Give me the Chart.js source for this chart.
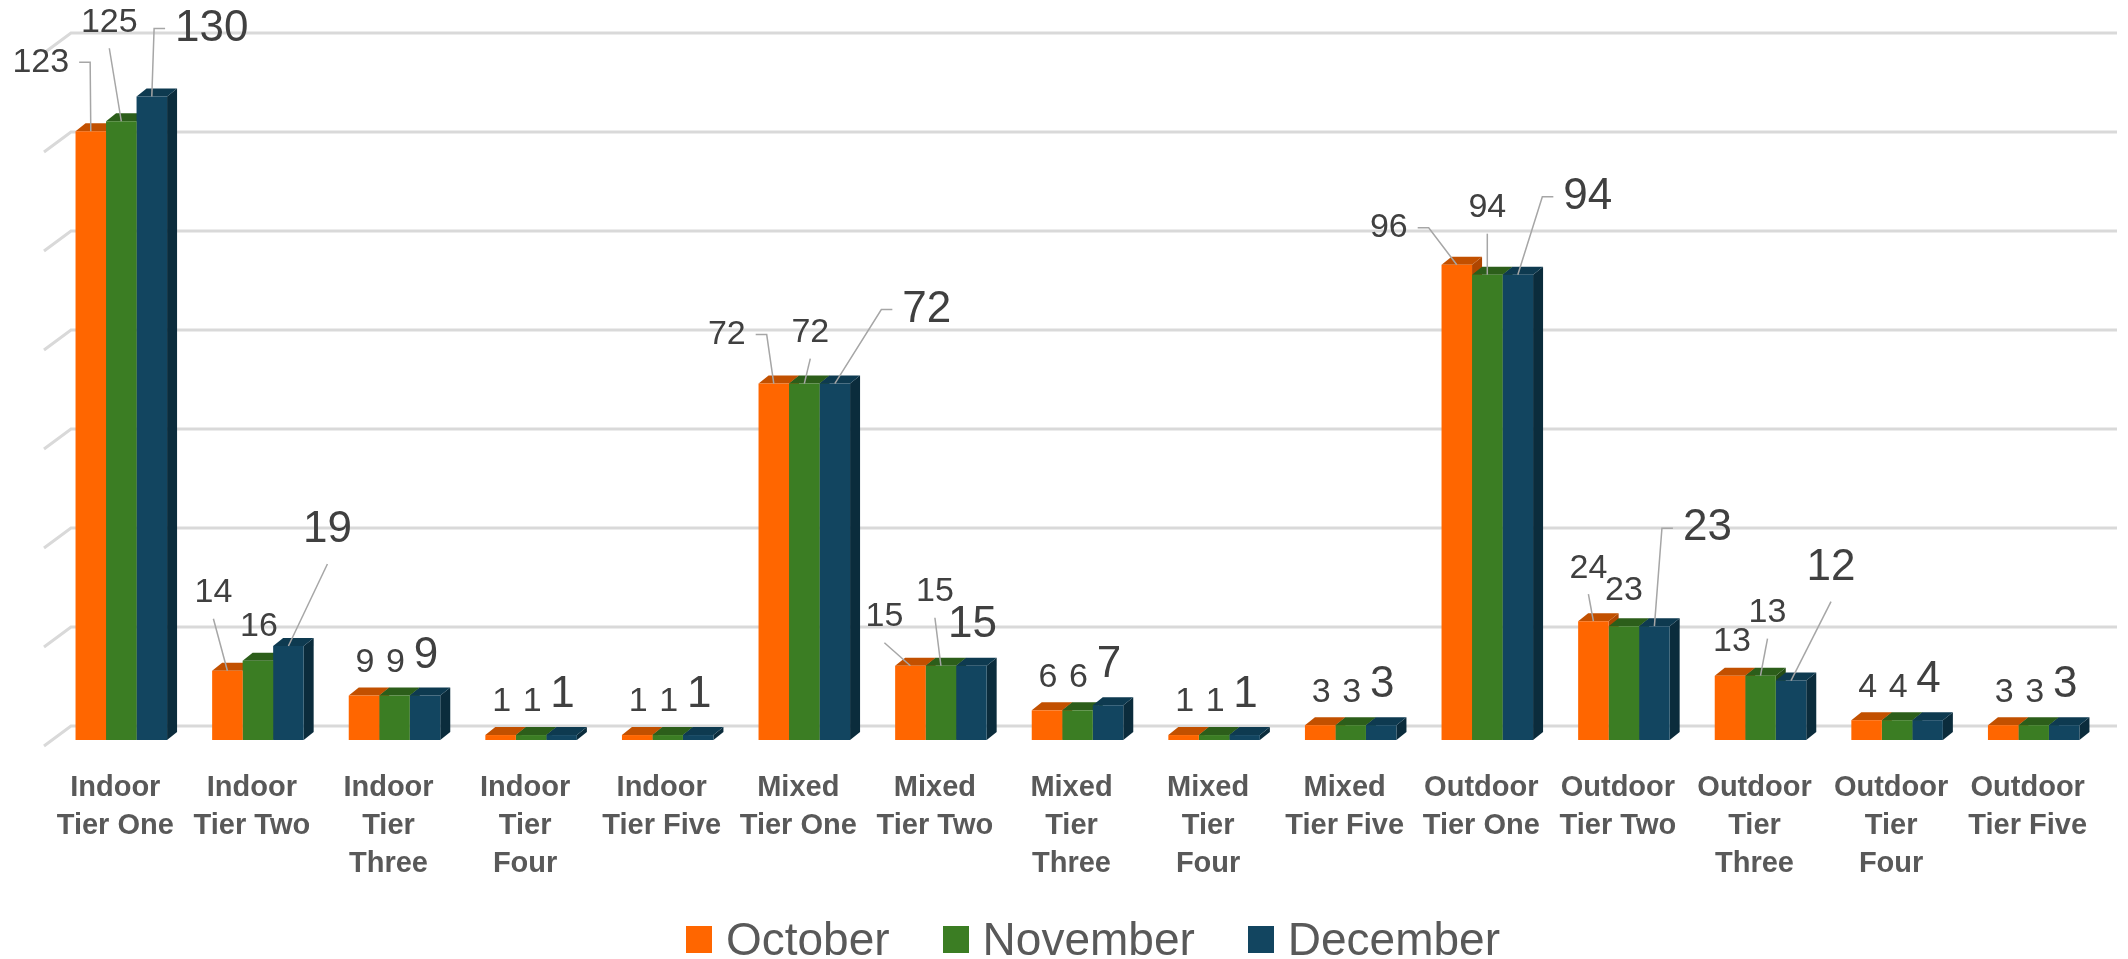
<!DOCTYPE html>
<html>
<head>
<meta charset="utf-8">
<script src="https://cdn.jsdelivr.net/npm/chart.js@4.4.1/dist/chart.umd.min.js"></script>
<style>
  body { margin: 0; background: #fff; }
  #wrap { position: relative; width: 2128px; height: 959px; }
  #legend {
    position: absolute; left: 0; top: 916px; width: 2128px;
    display: flex; justify-content: center; padding-left: 58px; box-sizing: border-box;
    font-family: 'Liberation Sans', Arial, sans-serif; font-size: 46px; line-height: 1; color: #595959;
  }
  .item { display: flex; align-items: center; margin: 0 26.5px; }
  .swatch { width: 26px; height: 27px; margin-right: 14px; }
</style>
</head>
<body>
<div id="wrap">
  <canvas id="chart" width="2128" height="959"></canvas>
  <div id="legend"></div>
</div>
<script>
// Categories (multi-line axis labels)
const categories = [
  ['Indoor', 'Tier One'], ['Indoor', 'Tier Two'], ['Indoor', 'Tier', 'Three'], ['Indoor', 'Tier', 'Four'], ['Indoor', 'Tier Five'],
  ['Mixed', 'Tier One'], ['Mixed', 'Tier Two'], ['Mixed', 'Tier', 'Three'], ['Mixed', 'Tier', 'Four'], ['Mixed', 'Tier Five'],
  ['Outdoor', 'Tier One'], ['Outdoor', 'Tier Two'], ['Outdoor', 'Tier', 'Three'], ['Outdoor', 'Tier', 'Four'], ['Outdoor', 'Tier Five']
];

// Series values
const october  = [123, 14, 9, 1, 1, 72, 15, 6, 1, 3, 96, 24, 13, 4, 3];
const november = [125, 16, 9, 1, 1, 72, 15, 6, 1, 3, 94, 23, 13, 4, 3];
const december = [130, 19, 9, 1, 1, 72, 15, 7, 1, 3, 94, 23, 12, 4, 3];
const seriesNames = ['October', 'November', 'December'];

// Value axis (ticks hidden, gridlines only)
const yMin = 0;
const yMax = 140;
const yStep = 20;

// Colours: front face, top face, side face
const frontColors = ['#FF6600', '#3B7D23', '#124560'];
const topColors = ['#C25000', '#2C5E1A', '#0E3A50'];
const sideColors = ['#B04600', '#244C15', '#0B2C3C'];

// 3D depth of bar tops / sides
const depthX = 10;
const depthY = 8;

// Data label placement: [dx, dy, leader] relative to bar top; others use defaults
const labelLayout = [
  { 0: [-50, -69, 'elbow'], 1: [-14, -78, 'drop'], 5: [-47, -49, 'elbow'], 6: [-26, -49, 'drop'],
    10: [-68, -37, 'elbow'], 11: [-5, -53, 'drop'], 12: [2, -34] },
  { 0: [-12, -99, 'drop'], 1: [1, -34], 5: [6, -51, 'drop'], 6: [-6, -74, 'drop'],
    10: [0, -67, 'drop'], 11: [0, -36], 12: [7, -63, 'drop'] },
  { 0: [60, -68, 'elbow'], 1: [39, -116, 'drop'], 5: [92, -74, 'elbow'], 6: [1, -41],
    10: [70, -78, 'elbow'], 11: [53, -98, 'elbow'], 12: [40, -113, 'drop'] }
];
const labelSizes = [34, 34, 44];

// Back wall gridlines + bar tops and sides (fronts are drawn by Chart.js)
const floorPlugin = {
  id: 'floor3d',
  beforeDatasetsDraw(chart) {
    const { ctx, chartArea, scales: { y } } = chart;
    ctx.save();
    ctx.strokeStyle = '#d9d9d9';
    ctx.lineWidth = 3;
    y.ticks.forEach(t => {
      const yf = y.getPixelForValue(t.value);
      ctx.beginPath();
      ctx.moveTo(chartArea.left - 9, yf + 6);
      ctx.lineTo(chartArea.left + 18, yf - 14);
      ctx.lineTo(chartArea.right + 15, yf - 14);
      ctx.stroke();
    });

    const n = chart.data.labels.length;
    for (let j = 0; j < n; j++) {
      chart.data.datasets.forEach((ds, i) => {
        const bar = chart.getDatasetMeta(i).data[j];
        const half = bar.width / 2;
        const l = bar.x - half, r = bar.x + half, t = bar.y, b = bar.base;
        ctx.fillStyle = sideColors[i];
        ctx.beginPath();
        ctx.moveTo(r, t);
        ctx.lineTo(r + depthX, t - depthY);
        ctx.lineTo(r + depthX, b - depthY);
        ctx.lineTo(r, b);
        ctx.closePath();
        ctx.fill();
        ctx.fillStyle = topColors[i];
        ctx.beginPath();
        ctx.moveTo(l, t);
        ctx.lineTo(r, t);
        ctx.lineTo(r + depthX, t - depthY);
        ctx.lineTo(l + depthX, t - depthY);
        ctx.closePath();
        ctx.fill();
      });
    }
    ctx.restore();
  }
};

// Value labels with leader lines
const labelPlugin = {
  id: 'valueLabels',
  afterDatasetsDraw(chart) {
    const { ctx } = chart;
    ctx.save();
    chart.data.datasets.forEach((ds, i) => {
      const size = labelSizes[i];
      ctx.font = size + 'px "Liberation Sans", Arial, sans-serif';
      ctx.textAlign = 'center';
      ctx.textBaseline = 'middle';
      chart.getDatasetMeta(i).data.forEach((bar, j) => {
        const text = String(ds.data[j]);
        const lay = labelLayout[i][j] || [1, i === 2 ? -40 : -33];
        const lx = bar.x + lay[0];
        const ly = bar.y + lay[1];
        const hw = ctx.measureText(text).width / 2;
        if (lay[2]) {
          ctx.strokeStyle = '#a6a6a6';
          ctx.lineWidth = 1.5;
          ctx.beginPath();
          if (lay[2] === 'elbow') {
            const dir = lay[0] < 0 ? 1 : -1;
            const sx = lx + dir * (hw + 10);
            ctx.moveTo(sx, ly);
            ctx.lineTo(sx + dir * 11, ly);
          } else {
            ctx.moveTo(lx, ly + (i === 2 ? 34 : 26));
          }
          ctx.lineTo(bar.x, bar.y);
          ctx.stroke();
        }
        ctx.fillStyle = '#404040';
        ctx.fillText(text, lx, ly);
      });
    });
    ctx.restore();
  }
};

const allSeries = [october, november, december];

const chart = new Chart(document.getElementById('chart').getContext('2d'), {
  type: 'bar',
  data: {
    labels: categories,
    datasets: allSeries.map((vals, i) => ({
      label: seriesNames[i],
      data: vals,
      backgroundColor: frontColors[i],
      borderWidth: 0,
      barPercentage: 1,
      categoryPercentage: 0.67
    }))
  },
  options: {
    responsive: false,
    animation: false,
    layout: { padding: { left: 53, right: 26, top: 47, bottom: 0 } },
    scales: {
      x: {
        grid: { display: false, drawTicks: false },
        border: { display: false },
        ticks: {
          color: '#595959',
          font: { family: '"Liberation Sans", Arial, sans-serif', size: 29, weight: 'bold', lineHeight: 1.31 },
          padding: 29,
          labelOffset: -6,
          maxRotation: 0,
          autoSkip: false
        },
        afterFit(scale) { scale.height = 219; }
      },
      y: {
        display: false,
        min: yMin,
        max: yMax,
        ticks: { stepSize: yStep }
      }
    },
    plugins: {
      legend: { display: false },
      tooltip: { enabled: false }
    }
  },
  plugins: [floorPlugin, labelPlugin]
});

// Legend built from the chart's datasets
const legendEl = document.getElementById('legend');
chart.data.datasets.forEach(ds => {
  const item = document.createElement('div');
  item.className = 'item';
  const sw = document.createElement('span');
  sw.className = 'swatch';
  sw.style.background = ds.backgroundColor;
  const txt = document.createElement('span');
  txt.textContent = ds.label;
  item.appendChild(sw);
  item.appendChild(txt);
  legendEl.appendChild(item);
});
</script>
</body>
</html>
